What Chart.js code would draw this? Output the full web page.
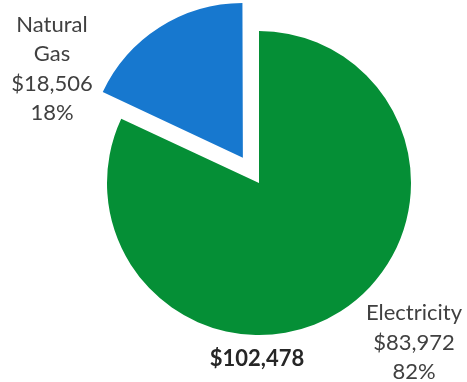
<!DOCTYPE html>
<html><head><meta charset="utf-8">
<script src="https://cdn.jsdelivr.net/npm/chart.js@4.4.1/dist/chart.umd.min.js"></script>
<style>html,body{margin:0;padding:0;background:#fff}#wrap{width:467px;height:382px;position:relative}</style>
</head><body><div id="wrap"><canvas id="c" width="467" height="382"></canvas></div>
<script>
const categories = ['Electricity', 'Natural Gas'];
const values = [83972, 18506];
const percents = ['82%', '18%'];
const valueLabels = ['$83,972', '$18,506'];
const totalLabel = '$102,478';
const colors = ['#058f36', '#1778cf'];

const labelPlugin = {
  id: 'labels',
  afterDraw(chart) {
    const ctx = chart.ctx;
    ctx.save();
    ctx.fillStyle = '#404040';
    ctx.textAlign = 'center';
    ctx.textBaseline = 'alphabetic';
    ctx.font = '22px Lato';
    const gas = ['Natural', 'Gas', valueLabels[1], percents[1]];
    const gy = [32, 61, 91, 120];
    gas.forEach((t, i) => ctx.fillText(t, 52, gy[i]));
    const el = [categories[0], valueLabels[0], percents[0]];
    const ey = [320, 350, 379];
    el.forEach((t, i) => ctx.fillText(t, 414, ey[i]));
    ctx.font = 'bold 22px Lato';
    ctx.fillStyle = '#262626';
    ctx.fillText(totalLabel, 257, 366);
    ctx.restore();
  }
};

new Chart(document.getElementById('c'), {
  type: 'pie',
  data: {
    labels: categories,
    datasets: [{
      data: values,
      backgroundColor: colors,
      borderWidth: 0,
      offset: [0, 120]
    }]
  },
  options: {
    responsive: false,
    animation: false,
    radius: 152,
    layout: { padding: { left: 51, right: 0, top: 0, bottom: 16 } },
    plugins: { legend: { display: false }, tooltip: { enabled: false } }
  },
  plugins: [labelPlugin]
});
</script></body></html>
